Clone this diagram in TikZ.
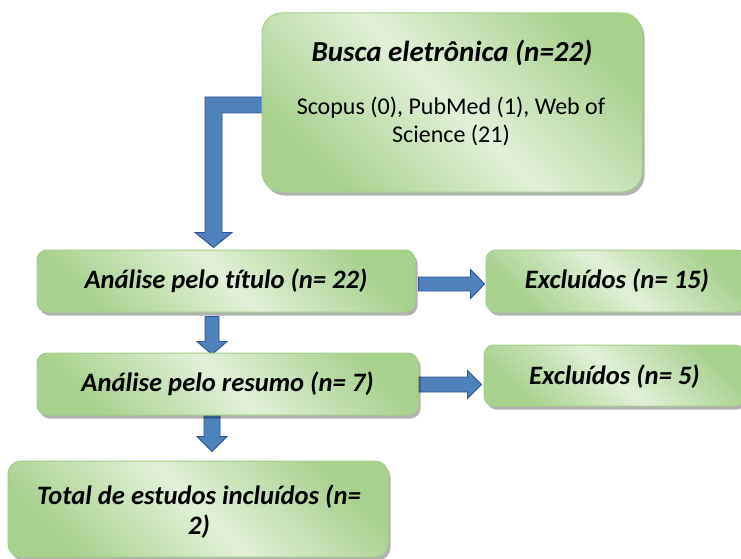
\documentclass[tikz,border=0pt]{standalone}
\usepackage{fontspec}
\setmainfont[Ligatures=NoCommon]{Carlito}
\usetikzlibrary{shadows,calc}
\definecolor{gdark}{HTML}{A9D18E}
\definecolor{glight}{HTML}{E2F0D9}
\definecolor{gedge}{HTML}{A5CE89}
\definecolor{afill}{HTML}{4F81BD}
\definecolor{aedge}{HTML}{2F5496}
\pgfdeclarelayer{paper}
\pgfdeclarelayer{background}
\pgfsetlayers{paper,background,main}
\begin{document}
\begin{tikzpicture}[x=1pt,y=-1pt,
  box/.style={rectangle, rounded corners=10pt, draw=gedge, line width=1pt,
    left color=gdark, right color=gdark, middle color=glight, shading angle=135,
    drop shadow={shadow xshift=2.5pt, shadow yshift=-3.5pt, opacity=0.3, fill=black},
    inner sep=0pt, minimum height=62pt},
  lbl/.style={font=\fontsize{26.6}{30}\selectfont\bfseries\itshape, align=center, inner sep=0pt},
  barrow/.style={draw=aedge, fill=afill, line width=0.9pt, line join=miter}
]
\clip (0,0) rectangle (741,559);
\begin{pgfonlayer}{paper}
\fill[white] (0,0) rectangle (741,559);
\end{pgfonlayer}

% boxes
\node[box, rounded corners=20pt, minimum width=380pt, minimum height=179pt] (busca) at (452,102.5) {};
\node[font=\fontsize{29}{34}\selectfont\bfseries\itshape, inner sep=0pt] (buscaT) at (452,53) {Busca eletrônica (n=22)};
\node[font=\fontsize{24}{28}\selectfont, align=center, inner sep=0pt] (buscaS) at (451,121) {Scopus (0), PubMed (1), Web of\\Science (21)};

\node[box, minimum width=378pt] (t2) at (226,281) {};
\node[lbl] (t2l) at (t2.center) {Análise pelo título (n= 22)};

\node[box, minimum width=262pt] (e1) at (617,281) {};
\node[lbl] (e1l) at (e1.center) {Excluídos (n= 15)};

\node[box, minimum width=381pt] (t3) at (227.5,384) {};
\node[lbl] (t3l) at (t3.center) {Análise pelo resumo (n= 7)};

\node[box, minimum width=261pt, minimum height=61pt] (e2) at (614.5,375.5) {};
\node[lbl] (e2l) at (614.5,377) {Excluídos (n= 5)};

\node[box, rounded corners=13pt, minimum width=380pt, minimum height=96pt] (t4) at (198,509) {};
\node[lbl] (t4l) at (199,512) {Total de estudos incluídos (n=\\2)};

% arrows
\begin{pgfonlayer}{background}
% elbow arrow from Busca to Analise titulo
\draw[barrow] let \p1=($(busca.west)+(3,2.5)$), \p2=($(t2.north)+(-12.5,-2)$) in
  (\x1,\y1+8pt) -- (\x2-8.5pt,\y1+8pt) -- (\x2-8.5pt,\y2+15pt) -- (\x2-18.5pt,\y2+15pt)
  -- (\x2,\y2) -- (\x2+18.5pt,\y2+15pt) -- (\x2+8.5pt,\y2+15pt) -- (\x2+8.5pt,\y1-8pt)
  -- (\x1,\y1-8pt) -- cycle;
% right arrow 1
\draw[barrow] let \p1=($(t2.east)+(3,3)$), \p2=($(e1.west)+(-1,3)$) in
  (\x1,\y1+7pt) -- (\x2-14pt,\y1+7pt) -- (\x2-14pt,\y1+14.5pt) -- (\x2,\y1)
  -- (\x2-14pt,\y1-14.5pt) -- (\x2-14pt,\y1-7pt) -- (\x1,\y1-7pt) -- cycle;
% right arrow 2
\draw[barrow] let \p1=($(t3.east)+(-4,0.5)$), \p2=($(e2.west)+(-2,9)$) in
  (\x1,\y1+7.5pt) -- (\x2-14pt,\y1+7.5pt) -- (\x2-14pt,\y1+14pt) -- (\x2,\y1)
  -- (\x2-14pt,\y1-14pt) -- (\x2-14pt,\y1-7.5pt) -- (\x1,\y1-7.5pt) -- cycle;
% down arrow 2
\draw[barrow] let \p1=($(t2.south)+(-14,4)$), \p2=($(t3.north)+(-14,2)$) in
  (\x1-7pt,\y1) -- (\x1-7pt,\y2+13pt) -- (\x1-15pt,\y2+13pt) -- (\x1,\y2)
  -- (\x1+15pt,\y2+13pt) -- (\x1+7pt,\y2+13pt) -- (\x1+7pt,\y1) -- cycle;
% down arrow 3
\draw[barrow] let \p1=($(t3.south)+(-15.5,-2)$), \p2=($(t4.north)+(-9.5,-9)$) in
  (\x1-8pt,\y1) -- (\x1-8pt,\y2+15pt) -- (\x1-15pt,\y2+15pt) -- (\x1,\y2)
  -- (\x1+15pt,\y2+15pt) -- (\x1+8pt,\y2+15pt) -- (\x1+8pt,\y1) -- cycle;
\end{pgfonlayer}
\end{tikzpicture}
\end{document}
